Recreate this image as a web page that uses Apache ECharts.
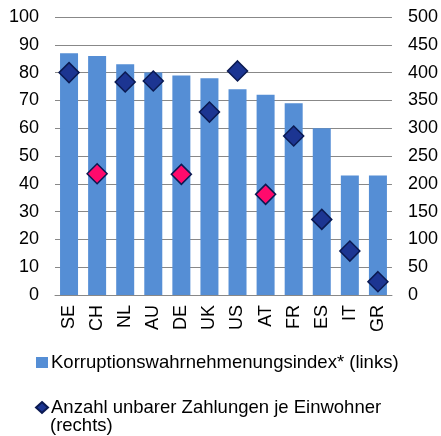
<!DOCTYPE html>
<html>
<head>
<meta charset="utf-8">
<script src="https://cdn.jsdelivr.net/npm/echarts@6/dist/echarts.min.js"></script>
<style>
html,body{margin:0;padding:0;background:#fff;}
#main{width:441px;height:436px;}
</style>
</head>
<body>
<div id="main"></div>
<script>
var laender = ['SE', 'CH', 'NL', 'AU', 'DE', 'UK', 'US', 'AT', 'FR', 'ES', 'IT', 'GR'];
// Korruptionswahrnehmungsindex (linke Achse)
var index = [87, 86, 83, 80, 79, 78, 74, 72, 69, 60, 43, 43];
// unbare Zahlungen je Einwohner (rechte Achse)
var zahlungen = [400, 218, 383, 385, 217, 329, 403, 181, 286, 136, 79, 24];
// hervorgehobene Länder (pink)
var markiert = ['CH', 'DE', 'AT'];
var linksTicks = [0, 100, 10];
var rechtsTicks = [0, 500, 50];

var nameBar = 'Korruptionswahrnehmenungsindex* (links)';
var nameDot = 'Anzahl unbarer Zahlungen je Einwohner';

var myChart = echarts.init(document.getElementById('main'));

var dotData = [];
for (var i = 0; i < zahlungen.length; i++) {
    var d = {value: zahlungen[i]};
    if (markiert.indexOf(laender[i]) >= 0) {
        d.itemStyle = {color: '#ff0a6c'};
    }
    dotData.push(d);
}

var lbl = {fontFamily: 'Liberation Sans', fontSize: 18, color: '#000'};

option = {
    animation: false,
    grid: {left: 55, right: 49, top: 17, bottom: 141},
    title: {
        text: '(rechts)',
        left: 50, top: 416,
        padding: 0,
        textStyle: {fontFamily: 'Liberation Sans', fontSize: 18.5, fontWeight: 'normal', color: '#000'}
    },
    legend: {
        orient: 'vertical',
        left: 35, top: 353,
        itemGap: 26,
        itemWidth: 12, itemHeight: 11,
        padding: 0,
        textStyle: {fontFamily: 'Liberation Sans', fontSize: 18.5, color: '#000', padding: [0, 0, 0, -2]},
        data: [
            {name: nameBar, icon: 'rect'},
            {name: nameDot, icon: 'diamond'}
        ]
    },
    xAxis: {
        type: 'category',
        data: laender,
        axisLine: {lineStyle: {color: '#888', width: 1}},
        axisTick: {show: false},
        axisLabel: Object.assign({rotate: 90, margin: 10}, lbl)
    },
    yAxis: [{
        type: 'value',
        min: linksTicks[0], max: linksTicks[1], interval: linksTicks[2],
        axisLine: {show: false},
        axisTick: {show: false},
        axisLabel: Object.assign({margin: 16}, lbl),
        splitLine: {lineStyle: {color: '#888', width: 1}}
    }, {
        type: 'value',
        min: rechtsTicks[0], max: rechtsTicks[1], interval: rechtsTicks[2],
        axisLine: {show: false},
        axisTick: {show: false},
        axisLabel: Object.assign({margin: 16}, lbl),
        splitLine: {show: false}
    }],
    series: [{
        name: nameBar,
        type: 'bar',
        barWidth: 18,
        itemStyle: {color: '#558ed5'},
        data: index
    }, {
        name: nameDot,
        type: 'scatter',
        yAxisIndex: 1,
        symbol: 'diamond',
        symbolSize: 20,
        itemStyle: {color: '#1c3592', borderColor: '#0b1a52', borderWidth: 1.5, opacity: 1},
        data: dotData
    }]
};
myChart.setOption(option);
</script>
</body>
</html>
